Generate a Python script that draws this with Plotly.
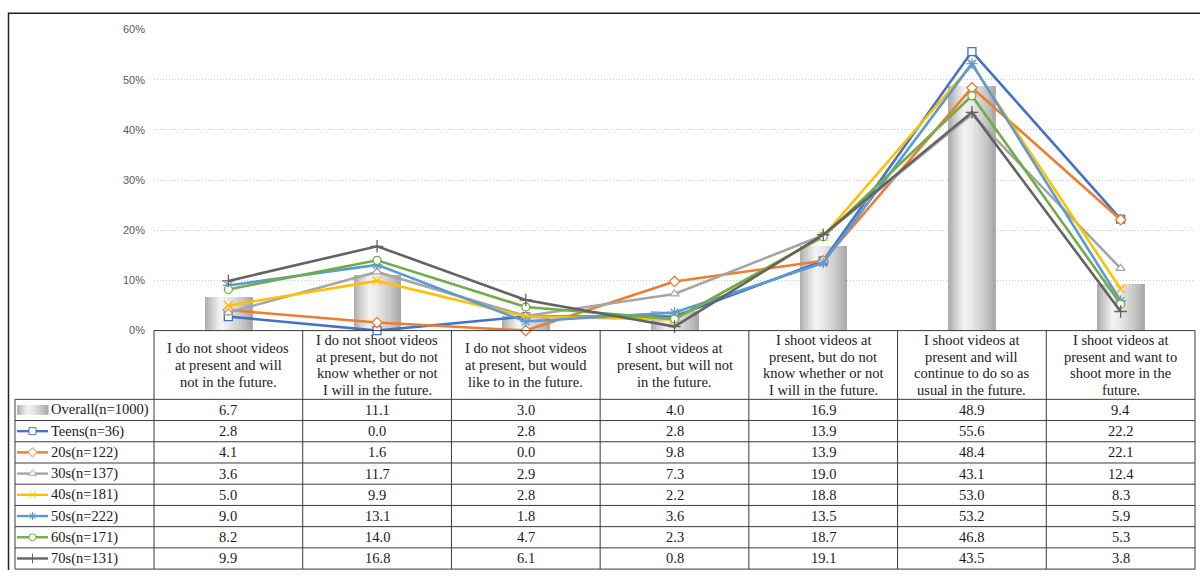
import plotly.graph_objects as go

# ---------------- data ----------------
categories = [
    "I do not shoot videos<br>at present and will<br>not in the future.",
    "I do not shoot videos<br>at present, but do not<br>know whether or not<br>I will in the future.",
    "I do not shoot videos<br>at present, but would<br>like to in the future.",
    "I shoot videos at<br>present, but will not<br>in the future.",
    "I shoot videos at<br>present, but do not<br>know whether or not<br>I will in the future.",
    "I shoot videos at<br>present and will<br>continue to do so as<br>usual in the future.",
    "I shoot videos at<br>present and want to<br>shoot more in the<br>future.",
]
overall_name = "Overall(n=1000)"
overall = [6.7, 11.1, 3.0, 4.0, 16.9, 48.9, 9.4]

series_names = ["Teens(n=36)", "20s(n=122)", "30s(n=137)", "40s(n=181)",
                "50s(n=222)", "60s(n=171)", "70s(n=131)"]
teens = [2.8, 0.0, 2.8, 2.8, 13.9, 55.6, 22.2]
s20 = [4.1, 1.6, 0.0, 9.8, 13.9, 48.4, 22.1]
s30 = [3.6, 11.7, 2.9, 7.3, 19.0, 43.1, 12.4]
s40 = [5.0, 9.9, 2.8, 2.2, 18.8, 53.0, 8.3]
s50 = [9.0, 13.1, 1.8, 3.6, 13.5, 53.2, 5.9]
s60 = [8.2, 14.0, 4.7, 2.3, 18.7, 46.8, 5.3]
s70 = [9.9, 16.8, 6.1, 0.8, 19.1, 43.5, 3.8]
series_values = [teens, s20, s30, s40, s50, s60, s70]
y_ticks = [0, 10, 20, 30, 40, 50, 60]
y_tick_labels = ["0%", "10%", "20%", "30%", "40%", "50%", "60%"]

# ---------------- styles ----------------
colors = ["#4472C4", "#ED7D31", "#A5A5A5", "#FFC000", "#5B9BD5", "#70AD47", "#636363"]
symbols = ["square", "diamond", "triangle-up", "x-thin-open", "asterisk-open", "circle", "cross-thin-open"]
filled = [True, True, True, False, False, True, False]

W, H = 1200, 576
X0, X1 = 154, 1195          # plot area / table data columns (px)
Y0, Y60 = 331.5, 24         # y pixel of 0% and 60%
TAB_L = 15
HEAD_TOP = 331.5
ROW_TOP = 401.7
ROW_H = 21.67
N = len(categories)
COL_W = (X1 - X0) / N
FS = 14.5
LINE_H = 17

def px(x):
    return x / W

def py(y):
    return 1 - y / H

serif = "Liberation Serif"
fig = go.Figure()

# ---- cylinder-like bars (overlaid vertical strips with shading) ----
bar_w = 0.316
n_strips = 30
def shade(t):
    pts = [(0.0, 170), (0.12, 200), (0.33, 244), (0.5, 232), (0.8, 198), (1.0, 168)]
    for (a, ca), (b, cb) in zip(pts[:-1], pts[1:]):
        if a <= t <= b:
            return int(ca + (cb - ca) * (t - a) / (b - a))
    return 200
sw = bar_w / n_strips
xs = list(range(N))
for i in range(n_strips):
    t = (i + 0.5) / n_strips
    g = shade(t)
    wdt = sw * 2.5 if i < n_strips - 1 else sw
    fig.add_trace(go.Bar(
        x=xs, y=overall, width=wdt, offset=-bar_w / 2 + i * sw,
        marker=dict(color=f"rgb({g},{g},{g})", line=dict(width=0)),
        showlegend=False, hoverinfo="skip", xaxis="x", yaxis="y"))

# ---- lines ----
for name, vals, c, s, f in zip(series_names, series_values, colors, symbols, filled):
    fig.add_trace(go.Scatter(
        x=xs, y=vals, mode="lines+markers", name=name,
        line=dict(color=c, width=2.6),
        marker=dict(symbol=s, size=8 if f else 9,
                    color="white" if f else c,
                    line=dict(color=c, width=1.3)),
        showlegend=False, xaxis="x", yaxis="y", cliponaxis=False))

# ---- legend key samples in the table's first column (pixel axes) ----
def row_center(r):
    return ROW_TOP + ROW_H * (r + 0.5)

for r, (c, s, f) in enumerate(zip(colors, symbols, filled), start=1):
    yc = row_center(r)
    fig.add_trace(go.Scatter(
        x=[17, 48], y=[yc, yc], mode="lines", line=dict(color=c, width=2.4),
        showlegend=False, hoverinfo="skip", xaxis="x2", yaxis="y2"))
    fig.add_trace(go.Scatter(
        x=[32.5], y=[yc], mode="markers",
        marker=dict(symbol=s, size=7, color="white" if f else c, line=dict(color=c, width=1)),
        showlegend=False, hoverinfo="skip", xaxis="x2", yaxis="y2"))

shapes = []
# overall key: shaded rectangle
yc0 = row_center(0)
nk = 12
for i in range(nk):
    g = shade((i + 0.5) / nk)
    x_a = 17 + i * 31 / nk
    shapes.append(dict(type="rect", xref="paper", yref="paper",
                       x0=px(x_a), x1=px(x_a + 31 / nk + 0.6),
                       y0=py(yc0 + 5), y1=py(yc0 - 5),
                       fillcolor=f"rgb({g},{g},{g})", line=dict(width=0), layer="above"))

# ---------------- table lines ----------------
line_col = "#3a3a3a"
shapes.append(dict(type="line", xref="paper", yref="paper", x0=px(X0), x1=px(X1),
                   y0=py(HEAD_TOP), y1=py(HEAD_TOP), line=dict(color=line_col, width=1)))
n_rows = 1 + len(series_names)
for r in range(n_rows + 1):
    yy = ROW_TOP + r * ROW_H
    shapes.append(dict(type="line", xref="paper", yref="paper", x0=px(TAB_L), x1=px(X1),
                       y0=py(yy), y1=py(yy), line=dict(color=line_col, width=1)))
bottom = ROW_TOP + n_rows * ROW_H
for k in range(N + 1):
    xx = X0 + k * COL_W
    shapes.append(dict(type="line", xref="paper", yref="paper", x0=px(xx), x1=px(xx),
                       y0=py(HEAD_TOP), y1=py(bottom), line=dict(color=line_col, width=1)))
shapes.append(dict(type="line", xref="paper", yref="paper", x0=px(TAB_L), x1=px(TAB_L),
                   y0=py(ROW_TOP), y1=py(bottom), line=dict(color=line_col, width=1)))
# outer frame (top and left)
shapes.append(dict(type="line", xref="paper", yref="paper", x0=px(8), x1=1,
                   y0=py(7.5), y1=py(7.5), line=dict(color="#222", width=1.5)))
shapes.append(dict(type="line", xref="paper", yref="paper", x0=px(8.5), x1=px(8.5),
                   y0=py(7), y1=0, line=dict(color="#222", width=1.5)))

# ---------------- table text ----------------
tfont = dict(family=serif, size=FS, color="#1a1a1a")
ann = []
hc = (HEAD_TOP + ROW_TOP) / 2
for k, cat in enumerate(categories):
    cx = X0 + (k + 0.5) * COL_W
    lines = cat.split("<br>")
    n = len(lines)
    for j, ln in enumerate(lines):
        yy = hc + (j - (n - 1) / 2) * LINE_H
        ann.append(dict(xref="paper", yref="paper", x=px(cx), y=py(yy),
                        text=ln, showarrow=False, xanchor="center", yanchor="middle",
                        font=tfont))
row_names = [overall_name] + series_names
row_vals = [overall] + series_values
for r, (nm, vals) in enumerate(zip(row_names, row_vals)):
    yc = row_center(r)
    ann.append(dict(xref="paper", yref="paper", x=px(49), y=py(yc), text=nm,
                    showarrow=False, xanchor="left", yanchor="middle", font=tfont))
    for k, v in enumerate(vals):
        cx = X0 + (k + 0.5) * COL_W
        ann.append(dict(xref="paper", yref="paper", x=px(cx), y=py(yc), text=f"{v:.1f}",
                        showarrow=False, xanchor="center", yanchor="middle", font=tfont))

fig.update_layout(
    width=W, height=H,
    margin=dict(l=0, r=0, t=0, b=0),
    paper_bgcolor="white", plot_bgcolor="rgba(0,0,0,0)",
    barmode="overlay", bargap=0,
    showlegend=False,
    xaxis=dict(domain=[px(X0), px(X1)], range=[-0.5, N - 0.5], showticklabels=False,
               showgrid=False, zeroline=False, showline=False, fixedrange=True),
    yaxis=dict(domain=[py(Y0), py(Y60)], range=[0, 60], tickvals=y_ticks, ticktext=y_tick_labels,
               showgrid=True, gridcolor="#c8c8c8", griddash="1px,2px", gridwidth=1,
               zeroline=False, showline=False, ticks="", ticklabelstandoff=8,
               tickfont=dict(family="Liberation Sans", size=11, color="#595959")),
    xaxis2=dict(domain=[0, 1], range=[0, W], visible=False, anchor="y2"),
    yaxis2=dict(domain=[0, 1], range=[H, 0], visible=False, anchor="x2"),
    shapes=shapes, annotations=ann,
)

fig.write_html("out.html")
